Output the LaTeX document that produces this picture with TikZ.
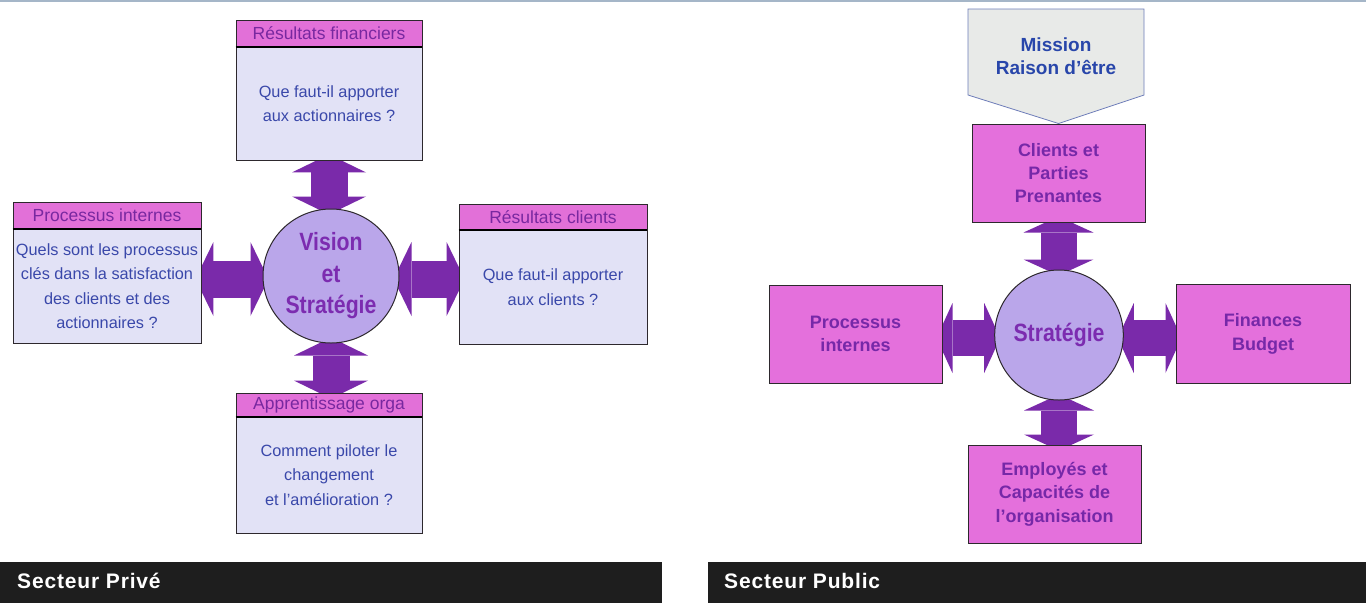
\documentclass[tikz,border=0pt]{standalone}
\usepackage{fontspec}
\setmainfont{Liberation Sans}
\newfontfamily\narrowsans[FakeStretch=0.85]{Liberation Sans}
\newfontfamily\barfont[LetterSpace=4]{Liberation Sans}
\usetikzlibrary{arrows.meta,shapes.geometric}
\pgfdeclarelayer{background}
\pgfsetlayers{background,main}
\definecolor{hdrpink}{RGB}{226,112,216}
\definecolor{magfill}{RGB}{228,112,220}
\definecolor{bodyfill}{RGB}{226,226,246}
\definecolor{circfill}{RGB}{186,166,234}
\definecolor{arrowc}{RGB}{122,42,170}
\definecolor{hdrtext}{RGB}{120,40,160}
\definecolor{bodytext}{RGB}{58,72,170}
\definecolor{purpletext}{RGB}{118,40,168}
\definecolor{circtext}{RGB}{124,44,176}
\definecolor{boxline}{RGB}{45,40,45}
\definecolor{missfill}{RGB}{232,234,232}
\definecolor{missline}{RGB}{110,125,185}
\definecolor{misstext}{RGB}{40,70,170}
\definecolor{bardark}{RGB}{30,30,30}
\definecolor{topline}{RGB}{165,182,200}
\begin{document}
\begin{tikzpicture}[x=1pt,y=-1pt,
  hdr/.style={rectangle, draw=boxline, line width=0.8pt, fill=hdrpink, inner sep=0pt,
    text=hdrtext, font=\fontsize{17.5}{20}\selectfont},
  bodybox/.style={rectangle, draw=boxline, line width=0.8pt, fill=bodyfill, inner sep=0pt,
    text=bodytext, align=center, font=\fontsize{16.3}{24.5}\selectfont},
  sep/.style={draw=black, line width=2pt},
  magbox/.style={rectangle, draw=boxline, line width=1pt, fill=magfill, inner sep=0pt,
    text=purpletext, align=center, font=\bfseries\fontsize{18}{23.3}\selectfont},
  vcirc/.style={ellipse, draw=boxline, line width=1pt, fill=circfill, inner sep=0pt,
    text=circtext, align=center, font=\narrowsans\bfseries\fontsize{25}{31.5}\selectfont},
  bigarrowA/.style={draw=arrowc, line width=37pt, shorten <=-6pt, shorten >=-6pt,
    {Triangle[width=74pt,length=18pt,line width=0pt]}-{Triangle[width=74pt,length=18pt,line width=0pt]}},
  bigarrowB/.style={draw=arrowc, line width=36pt, shorten <=-6pt, shorten >=-6pt,
    {Triangle[width=70pt,length=16pt,line width=0pt]}-{Triangle[width=70pt,length=16pt,line width=0pt]}},
  bar/.style={fill=bardark, draw=none},
  bartext/.style={text=white, anchor=base west, inner sep=0pt, font=\barfont\bfseries\fontsize{21}{24}\selectfont},
  mission/.style={fill=missfill, draw=missline, line width=0.8pt},
  misstxt/.style={text=misstext, align=center, inner sep=0pt, font=\bfseries\fontsize{19}{23.5}\selectfont}
]
\useasboundingbox (0,0) rectangle (1366,603);
\begin{pgfonlayer}{background}
\fill[white] (0,0) rectangle (1366,603);
\end{pgfonlayer}
\draw[topline, line width=1.5pt] (0,1) -- (1366,1);

% ---------- Secteur Prive ----------
\node[hdr, minimum width=186pt, minimum height=27pt] (fh) at (329,33.5) {Résultats financiers};
\node[bodybox, minimum width=186pt, minimum height=113pt] (fb) at (329,103.5) {Que faut-il apporter\\aux actionnaires ?};
\node[hdr, minimum width=188pt, minimum height=27pt] (ph) at (107,215.5) {Processus internes};
\node[bodybox, minimum width=188pt, minimum height=114pt] (pb) at (107,286) {Quels sont les processus\\clés dans la satisfaction\\des clients et des\\actionnaires ?};
\node[hdr, minimum width=188pt, minimum height=26pt] (ch) at (553,217) {Résultats clients};
\node[bodybox, minimum width=188pt, minimum height=114pt] (cb) at (553,287) {Que faut-il apporter\\aux clients ?};
\node[hdr, minimum width=186pt, minimum height=24pt] (ah) at (329,405) {Apprentissage orga};
\node[bodybox, minimum width=186pt, minimum height=116pt] (ab) at (329,475) {Comment piloter le\\changement\\et l’amélioration ?};
\draw[sep] (fh.south west) -- (fh.south east);
\draw[sep] (ph.south west) -- (ph.south east);
\draw[sep] (ch.south west) -- (ch.south east);
\draw[sep] (ah.south west) -- (ah.south east);
\node[vcirc, minimum width=136pt, minimum height=134pt] (V) at (331,276) {Vision\\et\\Stratégie};
\begin{pgfonlayer}{background}
\draw[bigarrowA] (fb.south) -- (fb.south |- V.north);
\draw[bigarrowA] (V.south) -- (V.south |- ah.north);
\draw[bigarrowA] ([yshift=-3pt]V.west) -- ([yshift=-3pt]V.west -| pb.east);
\draw[bigarrowA] ([yshift=-3pt]V.east) -- ([yshift=-3pt]V.east -| cb.west);
\end{pgfonlayer}

% ---------- Secteur Public ----------
\node[magbox, minimum width=173pt, minimum height=98pt] (cl) at (1058.5,173) {Clients et\\Parties\\Prenantes};
\draw[mission] (968,9) -- (1144,9) -- (1144,95) -- (cl.north) -- (968,95) -- cycle;
\node[misstxt] (m) at (1056,56) {Mission\\Raison d’être};
\node[magbox, minimum width=173pt, minimum height=98pt] (pi) at (855.5,334) {Processus\\internes};
\node[magbox, minimum width=174pt, minimum height=99pt] (fi) at (1263,334) {Finances\\Budget};
\node[magbox, minimum width=173pt, minimum height=98pt] (em) at (1054.5,494) {Employés et\\Capacités de\\l’organisation};
\node[vcirc, minimum width=124pt, minimum height=130pt] (S) at (1059,335) {Stratégie};
\begin{pgfonlayer}{background}
\draw[bigarrowB] (cl.south) -- (cl.south |- S.north);
\draw[bigarrowB] (S.south) -- (S.south |- em.north);
\draw[bigarrowB] ([yshift=-3pt]S.west) -- ([yshift=-3pt]S.west -| pi.east);
\draw[bigarrowB] ([yshift=-3pt]S.east) -- ([yshift=-3pt]S.east -| fi.west);
\end{pgfonlayer}

% ---------- bars ----------
\path[bar] (0,562) rectangle (662,603);
\path[bar] (708,562) rectangle (1366,603);
\node[bartext] (t1) at (17,588) {Secteur Privé};
\node[bartext] (t2) at (724,588) {Secteur Public};
\end{tikzpicture}
\end{document}
